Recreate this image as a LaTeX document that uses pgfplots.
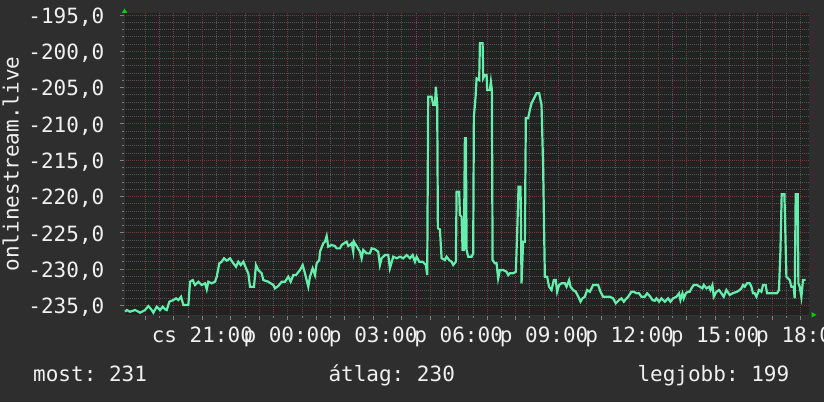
\documentclass[border=0pt]{standalone}
\usepackage{fontspec}
\setmainfont{DejaVu Sans Mono}
\usepackage{pgfplots}
\pgfplotsset{compat=1.18}
\definecolor{outerbg}{RGB}{46,46,46}
\definecolor{plotbg}{RGB}{34,34,34}
\definecolor{majgrid}{RGB}{125,52,52}
\definecolor{mingrid}{RGB}{84,84,84}
\definecolor{txt}{RGB}{240,240,240}
\definecolor{lineg}{RGB}{102,238,172}
\definecolor{arrowg}{RGB}{0,210,0}
\newcommand{\bigf}{\fontsize{21}{24}\selectfont}
\frenchspacing
\begin{document}
\frenchspacing
\begin{tikzpicture}[x=1pt,y=1pt]
\fill[outerbg] (0,0) rectangle (824,402);
\clip (0,0) rectangle (824,402);
\begin{axis}[
  at={(124pt,86.3pt)}, anchor=south west, scale only axis,
  width=685.3pt, height=302.2pt,
  xmin=18.25, xmax=42.31, ymin=-236.43, ymax=-194.79,
  axis background/.style={fill=plotbg},
  axis x line*=bottom, axis y line*=left,
  axis line style={draw=black!60!gray, line width=1pt, -},
  xtick={19,20,...,42},
  xticklabels={,,{cs 21:00},,,{p 00:00},,,{p 03:00},,,{p 06:00},,,{p 09:00},,,{p 12:00},,,{p 15:00},,,{p 18:00}},
  minor x tick num=1,
  ytick={-235,-230,...,-195},
  yticklabels={{-235,0},{-230,0},{-225,0},{-220,0},{-215,0},{-210,0},{-205,0},{-200,0},{-195,0}},
  minor y tick num=4,
  grid=both,
  major grid style={draw=majgrid, dash pattern=on 1pt off 1pt, line width=0.8pt},
  minor grid style={draw=mingrid, dash pattern=on 1pt off 1pt, line width=0.8pt},
  tick style={draw=gray, line width=0.8pt},
  tick align=outside, major tick length=4pt, minor tick length=2pt,
  ticklabel style={font=\bigf, text=txt, inner sep=0pt},
  yticklabel style={anchor=base east, xshift=-15.5pt, yshift=-8.3pt},
  xticklabel style={anchor=base, yshift=-22.3pt},
  clip=true,
]
\addplot[lineg, line width=2.2pt] coordinates {
(18.288,-235.88) (18.35,-235.65) (18.463,-235.88) (18.639,-235.65) (18.755,-235.88)
(18.814,-236.02) (18.99,-235.65) (19.106,-235.10) (19.225,-235.65) (19.281,-236.02)
(19.40,-235.19) (19.516,-235.65) (19.61,-235.19) (19.692,-235.55) (19.751,-235.65)
(19.842,-234.50) (19.983,-234.27) (20.078,-234.04) (20.158,-234.27) (20.253,-233.82)
(20.334,-234.96) (20.509,-234.96) (20.569,-231.75) (20.663,-231.52) (20.744,-232.20)
(20.86,-231.75) (20.979,-232.20) (21.095,-231.97) (21.155,-232.80) (21.211,-231.75)
(21.33,-231.97) (21.446,-231.75) (21.506,-231.06) (21.597,-229.21) (21.681,-228.99)
(21.762,-228.52) (21.857,-228.85) (21.972,-228.52) (22.088,-229.21) (22.183,-229.68)
(22.264,-228.99) (22.348,-229.45) (22.439,-228.99) (22.534,-229.90) (22.614,-230.59)
(22.674,-232.44) (22.814,-232.44) (22.884,-229.45) (22.965,-230.14) (23.085,-230.59)
(23.14,-231.52) (23.316,-231.75) (23.492,-232.20) (23.551,-232.66) (23.667,-232.34)
(23.786,-231.75) (23.902,-231.75) (24.018,-231.06) (24.102,-231.75) (24.193,-230.83)
(24.288,-230.83) (24.428,-230.14) (24.523,-229.45) (24.604,-230.59) (24.72,-232.44)
(24.779,-231.06) (24.874,-229.90) (24.955,-230.83) (25.014,-229.21) (25.106,-228.76)
(25.13,-227.61) (25.246,-226.46) (25.305,-226.24) (25.365,-225.45) (25.421,-226.93)
(25.54,-226.69) (25.656,-226.83) (25.716,-227.15) (25.832,-227.15) (25.891,-226.69)
(26.007,-226.37) (26.067,-226.24) (26.123,-226.83) (26.183,-226.69) (26.242,-226.46)
(26.298,-227.61) (26.323,-226.24) (26.418,-226.83) (26.534,-227.61) (26.593,-228.52)
(26.649,-227.38) (26.768,-227.84) (26.884,-227.84) (26.944,-227.15) (27.06,-227.28)
(27.176,-227.61) (27.235,-229.45) (27.295,-228.52) (27.411,-228.07) (27.527,-228.07)
(27.586,-229.90) (27.702,-228.30) (27.821,-228.52) (27.937,-228.30) (28.053,-228.52)
(28.172,-228.07) (28.288,-228.52) (28.383,-228.07) (28.463,-228.99) (28.523,-228.30)
(28.614,-228.99) (28.733,-228.99) (28.85,-229.45) (28.895,-230.82) (28.93,-206.26)
(29.05,-206.26) (29.106,-207.40) (29.165,-207.40) (29.2,-204.88) (29.246,-207.40)
(29.27,-224.39) (29.341,-224.53) (29.40,-228.52) (29.516,-228.76) (29.576,-228.30)
(29.667,-228.76) (29.751,-228.99) (29.807,-229.45) (29.902,-228.99) (29.927,-219.35)
(30.018,-219.35) (30.043,-222.56) (30.102,-222.79) (30.137,-227.38) (30.183,-227.38)
(30.218,-211.99) (30.253,-211.99) (30.278,-227.38) (30.334,-228.30) (30.453,-228.30)
(30.509,-227.84) (30.534,-209.01) (30.594,-206.26) (30.629,-203.72) (30.72,-203.96)
(30.745,-198.90) (30.84,-198.90) (30.861,-203.72) (30.92,-203.27) (30.98,-203.27)
(31.001,-205.33) (31.096,-205.33) (31.131,-204.19) (31.166,-205.33) (31.19,-228.76)
(31.271,-229.21) (31.33,-229.21) (31.386,-231.28) (31.446,-230.14) (31.562,-230.14)
(31.681,-230.37) (31.737,-230.83) (31.797,-230.59) (31.913,-230.59) (32.007,-230.37)
(32.053,-225.08) (32.102,-218.66) (32.172,-218.66) (32.207,-231.97) (32.263,-226.24)
(32.323,-226.24) (32.358,-209.23) (32.439,-209.23) (32.498,-208.09) (32.558,-207.17)
(32.674,-206.26) (32.733,-205.79) (32.825,-205.79) (32.909,-207.40) (32.965,-215.90)
(33.025,-231.06) (33.105,-231.06) (33.175,-232.44) (33.26,-232.89) (33.34,-231.52)
(33.41,-231.52) (33.456,-233.13) (33.527,-232.20) (33.611,-231.97) (33.727,-231.97)
(33.786,-232.44) (33.877,-231.52) (33.927,-232.44) (34.018,-232.89) (34.113,-233.13)
(34.228,-234.04) (34.277,-234.50) (34.347,-234.04) (34.428,-233.82) (34.509,-232.89)
(34.604,-233.13) (34.72,-232.20) (34.895,-232.20) (34.98,-233.13) (35.071,-233.82)
(35.306,-233.82) (35.422,-234.04) (35.516,-234.73) (35.632,-234.27) (35.716,-234.04)
(35.797,-234.50) (35.867,-234.17) (35.948,-233.82) (36.066,-233.13) (36.147,-233.13)
(36.242,-233.35) (36.333,-233.35) (36.417,-233.82) (36.533,-233.82) (36.615,-233.35)
(36.709,-233.72) (36.804,-234.27) (36.884,-234.37) (36.944,-234.04) (37.036,-234.50)
(37.12,-234.04) (37.236,-234.50) (37.351,-234.04) (37.435,-234.50) (37.527,-234.04)
(37.646,-233.82) (37.737,-233.35) (37.786,-234.27) (37.857,-233.35) (37.902,-234.04)
(37.972,-233.35) (38.053,-233.13) (38.112,-233.13) (38.172,-232.66) (38.253,-232.20)
(38.369,-232.20) (38.464,-232.44) (38.559,-232.66) (38.604,-232.20) (38.699,-232.66)
(38.79,-232.44) (38.839,-232.89) (38.909,-232.20) (38.955,-233.82) (39.05,-233.13)
(39.141,-232.89) (39.225,-233.35) (39.306,-233.82) (39.40,-232.89) (39.516,-233.58)
(39.611,-233.35) (39.773,-233.13) (39.867,-232.89) (39.927,-232.66) (39.983,-232.20)
(40.042,-232.44) (40.123,-231.97) (40.218,-231.97) (40.277,-232.44) (40.334,-233.35)
(40.393,-233.35) (40.453,-233.82) (40.544,-232.89) (40.628,-233.13) (40.684,-232.20)
(40.779,-232.20) (40.825,-233.35) (41.035,-233.35) (41.175,-233.35) (41.245,-232.89)
(41.295,-227.61) (41.341,-219.70) (41.436,-219.70) (41.506,-231.06) (41.622,-231.52)
(41.681,-232.44) (41.762,-232.44) (41.797,-234.04) (41.832,-219.70) (41.902,-219.70)
(41.927,-231.97) (41.973,-232.44) (42.032,-233.82) (42.088,-231.52) (42.183,-231.52)
};
\end{axis}
\fill[arrowg] (121.8,389) -- (127.4,389) -- (124.6,393.5) -- cycle;
\fill[arrowg] (811.5,84.5) -- (811.5,89.9) -- (816.5,87.2) -- cycle;
\node[rotate=90, anchor=base, inner sep=0pt, text=txt, font=\bigf] at (18.5,238) {onlinestream.live};
\node[anchor=base west, inner sep=0pt, text=txt, font=\bigf] at (33,21) {most: 231};
\node[anchor=base west, inner sep=0pt, text=txt, font=\bigf] at (328.3,21) {átlag: 230};
\node[anchor=base west, inner sep=0pt, text=txt, font=\bigf] at (637.3,21) {legjobb: 199};
\end{tikzpicture}
\end{document}
